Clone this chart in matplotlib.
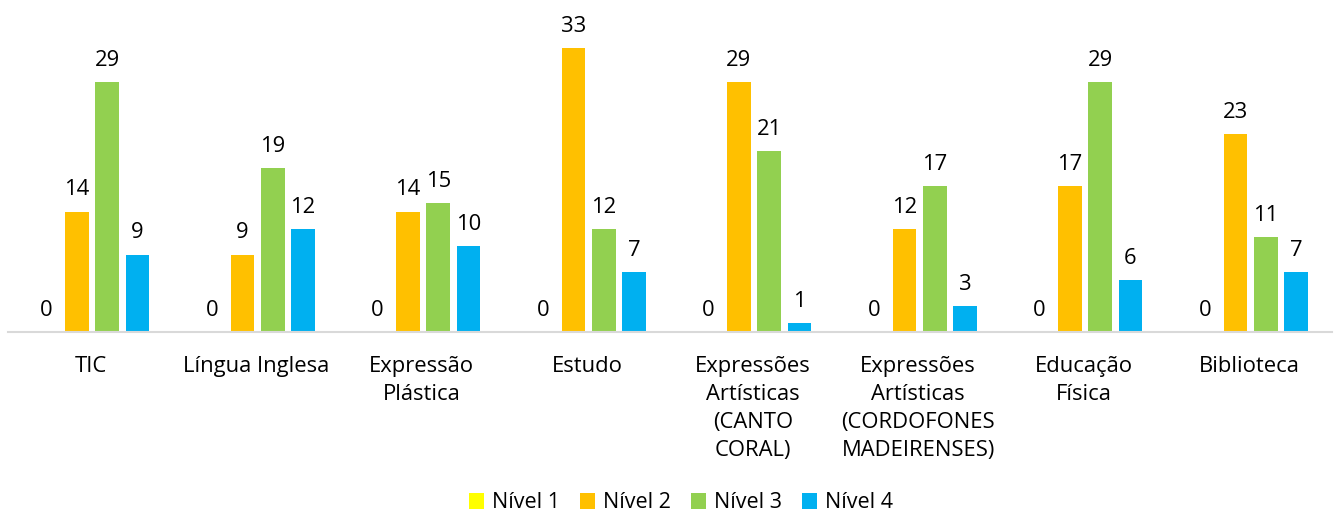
import matplotlib
matplotlib.use("Agg")
import matplotlib.pyplot as plt
import numpy as np

categories = ["TIC", "Língua Inglesa", "Expressão\nPlástica", "Estudo",
              "Expressões\nArtísticas\n(CANTO\nCORAL)",
              "Expressões\nArtísticas\n(CORDOFONES\nMADEIRENSES)",
              "Educação\nFísica", "Biblioteca"]
series_names = ["Nível 1", "Nível 2", "Nível 3", "Nível 4"]
nivel1 = [0, 0, 0, 0, 0, 0, 0, 0]
nivel2 = [14, 9, 14, 33, 29, 12, 17, 23]
nivel3 = [29, 19, 15, 12, 21, 17, 29, 11]
nivel4 = [9, 12, 10, 7, 1, 3, 6, 7]
colors = ["#FFFF00", "#FFC000", "#92D050", "#00B0F0"]

plt.rcParams['font.family'] = ['Open Sans', 'DejaVu Sans']
FS = 15.8

W, H = 1334, 513
fig = plt.figure(figsize=(W / 100, H / 100), dpi=100)
ymax = 35
px_per_unit = (332 - 48) / 33
ax_h = ymax * px_per_unit
ax = fig.add_axes([8 / W, (H - 332) / H, (1332 - 8) / W, ax_h / H])

x = np.arange(len(categories))
pitch = 0.183
bw = 0.143
data = [nivel1, nivel2, nivel3, nivel4]
for i, (vals, c, name) in enumerate(zip(data, colors, series_names)):
    offs = (i - 1.5) * pitch + 0.008
    bars = ax.bar(x + offs, vals, width=bw, color=c, label=name)
    for b, v in zip(bars, vals):
        ax.annotate(str(v), (b.get_x() + b.get_width() / 2, v),
                    xytext=(0, 8), textcoords="offset points",
                    ha="center", va="bottom", fontsize=FS, color="#000000")

ax.set_xlim(-0.5, len(categories) - 0.5)
ax.set_ylim(0, ymax)
ax.set_yticks([])
for s in ["top", "right", "left"]:
    ax.spines[s].set_visible(False)
ax.spines["bottom"].set_color("#D9D9D9")
ax.spines["bottom"].set_linewidth(1.5)
ax.set_xticks(x)
ax.set_xticklabels(categories, fontsize=FS, linespacing=1.45)
ax.tick_params(axis="x", length=0, pad=17)

leg = fig.legend(loc="center", bbox_to_anchor=(0.5 + 14 / W, (H - 503) / H), ncol=4,
                 frameon=False, fontsize=15.5, handlelength=0.7, handleheight=0.7,
                 handletextpad=0.35, columnspacing=0.95)

fig.savefig("out.png", dpi=100)
